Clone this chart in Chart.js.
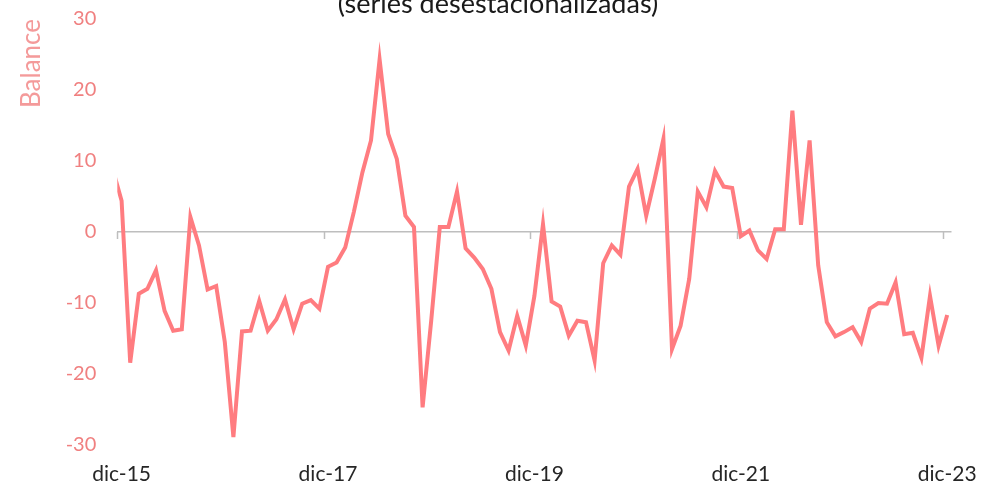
<!DOCTYPE html>
<html lang="es">
<head>
<meta charset="utf-8">
<title>Balance (series desestacionalizadas)</title>
<script src="https://cdn.jsdelivr.net/npm/chart.js@4"></script>
<style>
  html, body { margin: 0; padding: 0; background: #fff; }
  #grafico-wrap { width: 981px; height: 487px; position: relative; }
</style>
</head>
<body>
<div id="grafico-wrap"><canvas id="grafico-balance"></canvas></div>
<script>
// --- Datos: meses (nov-15 a dic-23) y balance desestacionalizado ---
const MESES = ['ene', 'feb', 'mar', 'abr', 'may', 'jun', 'jul', 'ago', 'sep', 'oct', 'nov', 'dic'];
const ANIOS = ['16', '17', '18', '19', '20', '21', '22', '23'];
const meses = ['nov-15', 'dic-15'];
ANIOS.forEach(a => MESES.forEach(m => meses.push(`${m}-${a}`)));

const balance = [
   8.7,   4.4, -18.4,  -8.7,  -8.0,  -5.4, -11.1, -13.9, -13.7,   2.1,  -1.9,  -8.1,
  -7.6, -15.5, -28.9, -14.0, -13.9,  -9.7, -13.9, -12.3,  -9.5, -13.7, -10.1,  -9.6,
 -10.8,  -4.9,  -4.3,  -2.2,   2.8,   8.4,  12.9,  24.3,  13.8,  10.3,   2.3,   0.7,
 -24.7, -12.5,   0.7,   0.7,   5.7,  -2.3,  -3.6,  -5.2,  -8.0, -14.1, -16.7, -11.8,
 -16.0,  -9.0,   1.1,  -9.8, -10.5, -14.6, -12.5, -12.7, -18.1,  -4.4,  -1.9,  -3.2,
   6.4,   8.9,   2.3,   7.5,  13.1, -16.5, -13.2,  -6.6,   5.7,   3.5,   8.6,   6.4,
   6.2,  -0.6,   0.2,  -2.6,  -3.8,   0.4,   0.4,  17.1,   1.0,  12.9,  -4.7, -12.7,
 -14.7, -14.1, -13.4, -15.5, -10.8, -10.0, -10.1,  -7.1, -14.4, -14.2, -17.7,  -9.0,
 -16.0, -11.7
];

// Etiquetas visibles del eje X y del eje Y
const etiquetasEje = ['dic-15', 'dic-17', 'dic-19', 'dic-21', 'dic-23'];
const ticksY = [-30, -20, -10, 0, 10, 20, 30];

const ROSA = '#FF7C80';
const ROSA_TEXTO = '#F08080';

// Plugin: título cortado arriba y marcas del eje sobre la línea del cero
const decoracion = {
    id: 'decoracion',
    beforeDatasetsDraw(chart) {
        const { ctx, scales: { x, y } } = chart;
        const y0 = y.getPixelForValue(0);
        ctx.save();
        ctx.strokeStyle = '#BEBEBE';
        ctx.lineWidth = 1.5;
        etiquetasEje.forEach(lbl => {
            const i = meses.indexOf(lbl);
            const medio = (x.getPixelForValue(i) - x.getPixelForValue(i - 1)) / 2;
            const px = Math.round(x.getPixelForValue(i) - medio) + 0.5;
            ctx.beginPath();
            ctx.moveTo(px, y0);
            ctx.lineTo(px, y0 + 7);
            ctx.stroke();
        });
        ctx.restore();
    },
    afterDraw(chart) {
        const { ctx } = chart;
        ctx.save();
        ctx.fillStyle = '#1a1a1a';
        ctx.font = '27px Lato';
        ctx.textAlign = 'center';
        ctx.textBaseline = 'alphabetic';
        ctx.fillText('(series desestacionalizadas)', 498, 13);
        ctx.restore();
    }
};

new Chart(document.getElementById('grafico-balance'), {
    type: 'line',
    data: {
        labels: meses,
        datasets: [{
            label: 'Balance',
            data: balance,
            borderColor: ROSA,
            borderWidth: 4,
            pointRadius: 0,
            tension: 0,
            fill: false,
            clip: 0
        }]
    },
    options: {
        responsive: true,
        maintainAspectRatio: false,
        animation: false,
        layout: { padding: { top: 19, right: 29.5, left: 0, bottom: 0 } },
        plugins: {
            legend: { display: false },
            tooltip: { enabled: false }
        },
        scales: {
            x: {
                type: 'category',
                min: 'dic-15',
                offset: true,
                grid: { display: false },
                border: { display: false },
                ticks: {
                    autoSkip: false,
                    maxRotation: 0,
                    padding: 9,
                    color: '#262626',
                    font: { family: 'Lato', size: 21 },
                    callback: function (val) {
                        const lbl = this.getLabelForValue(val);
                        return etiquetasEje.includes(lbl) ? lbl : '';
                    }
                },
                afterFit: (scale) => {
                    scale.height = 42;
                    scale.paddingLeft = 0;
                    scale.paddingRight = 0;
                }
            },
            y: {
                min: -30,
                max: 30,
                afterBuildTicks: (scale) => { scale.ticks = ticksY.map(v => ({ value: v })); },
                grid: {
                    drawTicks: false,
                    lineWidth: 1.5,
                    color: (c) => c.tick && c.tick.value === 0 ? '#BEBEBE' : 'rgba(0,0,0,0)'
                },
                border: { display: false },
                ticks: {
                    padding: 21,
                    color: ROSA_TEXTO,
                    font: { family: 'Lato', size: 20 }
                },
                title: {
                    display: true,
                    text: 'Balance',
                    align: 'end',
                    color: '#F49A9A',
                    font: { family: 'Lato', size: 26 },
                    padding: { top: 16, bottom: 0 }
                },
                afterFit: (scale) => {
                    scale.width = 117.3;
                    scale.paddingTop = 0;
                    scale.paddingBottom = 0;
                }
            }
        }
    },
    plugins: [decoracion]
});
</script>
</body>
</html>
